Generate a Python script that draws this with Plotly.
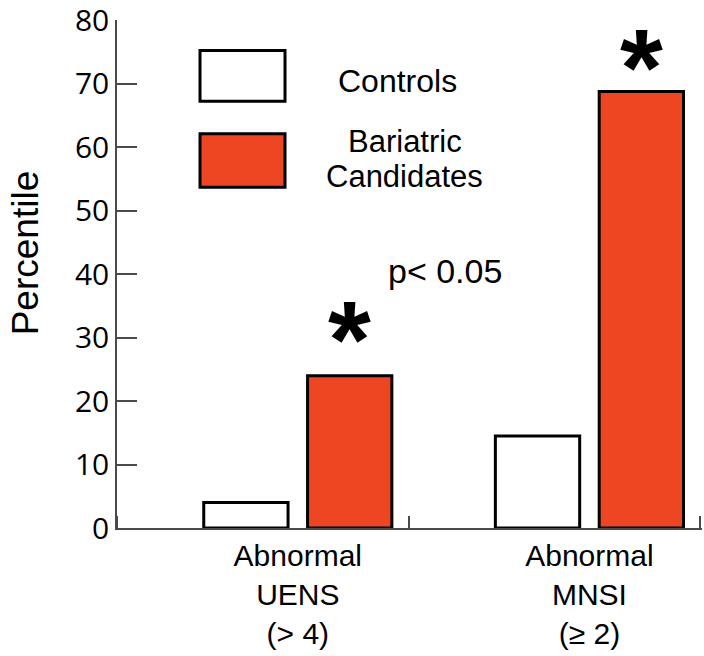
import plotly.graph_objects as go

# Percentage of subjects with abnormal neuropathy scores
groups = ["Abnormal<br>UENS<br>(> 4)", "Abnormal<br>MNSI<br>(≥ 2)"]
group_pos = [0.62, 1.62]
controls = [4, 14.5]
bariatric = [24, 68.8]
series_names = ["Controls", "Bariatric Candidates"]
star_levels = [31.9, 74.8]
y_ticks = [0, 10, 20, 30, 40, 50, 60, 70, 80]

ORANGE = "#EE4623"
AXIS = "#4a4a4a"
SANS = "Liberation Sans, Arial, sans-serif"

fig = go.Figure()
fig.add_trace(go.Bar(
    x=group_pos, y=controls, name=series_names[0],
    marker=dict(color="white", line=dict(color="black", width=3)),
    showlegend=False,
))
fig.add_trace(go.Bar(
    x=group_pos, y=bariatric, name=series_names[1],
    marker=dict(color=ORANGE, line=dict(color="black", width=3)),
    showlegend=False,
))

# significance markers above the bariatric bars
half_slot = (1 - 0.288) / 4
for gx, lvl in zip(group_pos, star_levels):
    fig.add_annotation(
        x=gx + half_slot, y=lvl, xref="x", yref="y", text="<b>*</b>",
        showarrow=False, yanchor="middle", yshift=-13,
        font=dict(family=SANS, size=110, color="black"),
    )

fig.add_annotation(
    x=0.561, y=0.506, xref="paper", yref="paper", text="p< 0.05",
    showarrow=False, font=dict(family=SANS, size=34, color="black"),
)

# y-axis caption
fig.add_annotation(
    x=-0.157, y=0.541, xref="paper", yref="paper", text="Percentile",
    textangle=-90, showarrow=False, xanchor="center", yanchor="middle",
    font=dict(family=SANS, size=37, color="black"),
)

# hand-built key
key_boxes = [
    (dict(x0=0.1419, x1=0.2872, y0=0.840, y1=0.940), "white"),
    (dict(x0=0.1419, x1=0.2872, y0=0.6706, y1=0.776), ORANGE),
]
for box, fill in key_boxes:
    fig.add_shape(type="rect", xref="paper", yref="paper", **box,
                  fillcolor=fill, line=dict(color="black", width=3))
key_text = [("Controls", 0.4795, 0.879, 32), ("Bariatric", 0.492, 0.761, 31),
            ("Candidates", 0.492, 0.692, 31)]
for txt, kx, ky, fs in key_text:
    fig.add_annotation(x=kx, y=ky, xref="paper", yref="paper", text=txt,
                       showarrow=False, yanchor="middle",
                       font=dict(family=SANS, size=fs, color="black"))

fig.update_layout(
    width=704, height=656,
    margin=dict(l=117, r=2, t=20, b=128),
    paper_bgcolor="white", plot_bgcolor="white",
    barmode="group", bargap=0.288, bargroupgap=0.188,
    xaxis=dict(
        range=[0, 2.006], tickvals=group_pos, ticktext=groups,
        ticks="", showline=True, linecolor=AXIS, linewidth=1.5,
        showgrid=False, zeroline=False, automargin=False,
        ticklabelstandoff=0,
        tickfont=dict(family=SANS, size=30, color="black"),
        minor=dict(tick0=0, dtick=1, ticks="inside", ticklen=12,
                   tickcolor=AXIS, tickwidth=1.5, showgrid=False),
    ),
    yaxis=dict(
        range=[0, 80.05], tickvals=y_ticks, ticks="inside", ticklen=20,
        tickcolor=AXIS, tickwidth=1.5,
        showline=True, linecolor=AXIS, linewidth=1.5,
        showgrid=False, zeroline=False, automargin=False,
        ticklabeloverflow="allow",
        tickfont=dict(family="Open Sans, sans-serif", size=30, color="black"),
    ),
)

fig.write_html("out.html")
